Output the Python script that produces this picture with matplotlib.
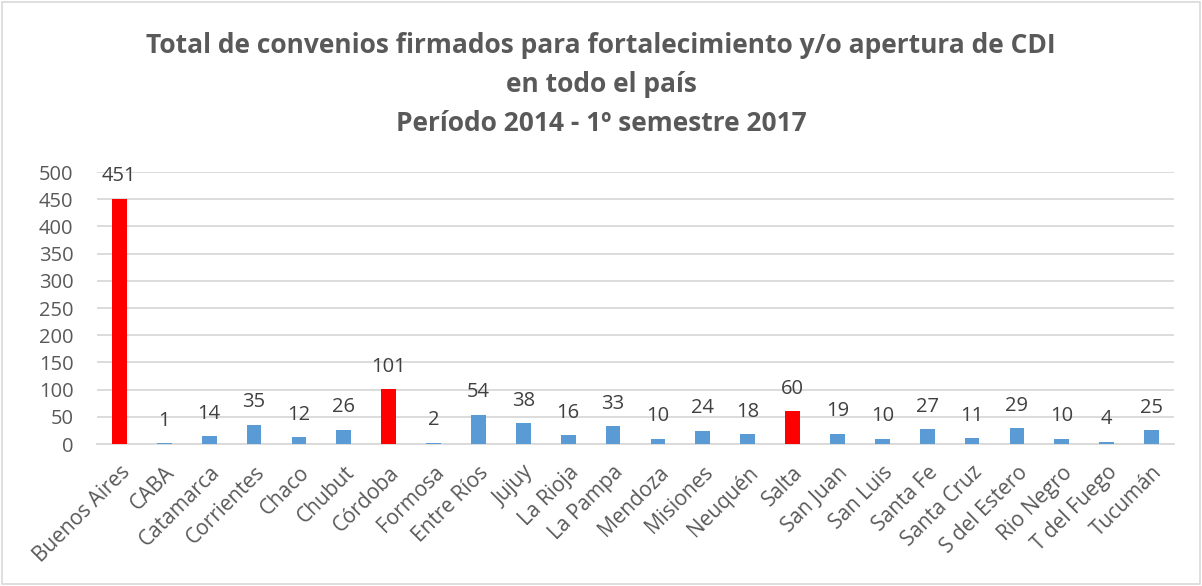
import matplotlib
matplotlib.use("Agg")
import matplotlib.pyplot as plt
from matplotlib.patches import Rectangle

plt.rcParams['font.family'] = ['Open Sans', 'DejaVu Sans']

provincias = ['Buenos Aires', 'CABA', 'Catamarca', 'Corrientes', 'Chaco', 'Chubut',
              'Córdoba', 'Formosa', 'Entre Ríos', 'Jujuy', 'La Rioja', 'La Pampa',
              'Mendoza', 'Misiones', 'Neuquén', 'Salta', 'San Juan', 'San Luis',
              'Santa Fe', 'Santa Cruz', 'S del Estero', 'Rio Negro', 'T del Fuego',
              'Tucumán']
convenios = [451, 1, 14, 35, 12, 26, 101, 2, 54, 38, 16, 33, 10, 24, 18, 60,
             19, 10, 27, 11, 29, 10, 4, 25]
destacadas = ['Buenos Aires', 'Córdoba', 'Salta']

titulo = ('Total de convenios firmados para fortalecimiento y/o apertura de CDI\n'
          'en todo el país\nPeríodo 2014 - 1º semestre 2017')

azul = '#5B9BD5'
rojo = '#FF0000'
gris = '#595959'

colores = [rojo if p in destacadas else azul for p in provincias]

fig = plt.figure(figsize=(12.02, 5.86), dpi=100)
ax = fig.add_axes([97 / 1202, 1 - 444 / 586, 1077 / 1202, 272 / 586])

x = range(len(provincias))
bars = ax.bar(x, convenios, width=0.33, color=colores, zorder=3)

# etiquetas de valor encima de cada barra
for b, v in zip(bars, convenios):
    ax.annotate(str(v), (b.get_x() + b.get_width() / 2, v), xytext=(0, 9),
                textcoords='offset points', ha='center', va='bottom',
                fontsize=14.5, color='#404040')

ax.set_xlim(-0.5, len(provincias) - 0.5)
ax.set_ylim(0, 500)
ax.set_yticks(range(0, 501, 50))
ax.grid(axis='y', color='#D9D9D9', linewidth=1.3, zorder=0)
for s in ['top', 'right', 'left']:
    ax.spines[s].set_visible(False)
ax.spines['bottom'].set_color('#D9D9D9')
ax.spines['bottom'].set_linewidth(1.3)
ax.tick_params(axis='both', length=0, labelsize=14.5, labelcolor=gris)
ax.tick_params(axis='y', pad=17)
ax.tick_params(axis='x', pad=13, labelsize=15)
ax.set_xticks(list(x))
ax.set_xticklabels(provincias, rotation=45, ha='right', rotation_mode='anchor')

fig.text(0.5, 0.946, titulo, ha='center', va='top', fontsize=19,
         fontweight='bold', color=gris, linespacing=1.57)

fig.patches.append(Rectangle((0.002, 0.003), 0.996, 0.994, transform=fig.transFigure,
                             fill=False, edgecolor='#D9D9D9', linewidth=1.2))

fig.savefig('out.png', dpi=100)
